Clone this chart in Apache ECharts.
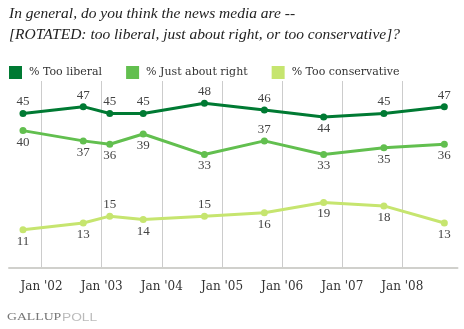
<!DOCTYPE html>
<html>
<head>
<meta charset="utf-8">
<script src="https://cdn.jsdelivr.net/npm/echarts@6/dist/echarts.min.js"></script>
<style>
  html, body { margin: 0; padding: 0; background: #fff; }
  #chart { width: 464px; height: 329px; }
</style>
</head>
<body>
<div id="chart"></div>
<script>
// Survey dates and results (%)
const surveyDates = ['2001-09-10', '2002-09-11', '2003-02-19', '2003-09-10', '2004-09-16',
                     '2005-09-15', '2006-09-10', '2007-09-11', '2008-09-12'];
const tooLiberal = [45, 47, 45, 45, 48, 46, 44, 45, 47];
const justRight = [40, 37, 36, 39, 33, 37, 33, 35, 36];
const tooConservative = [11, 13, 15, 14, 15, 16, 19, 18, 13];

// Year ticks along the date axis
const tickDates = ['2002-01-01', '2003-01-01', '2004-01-01', '2005-01-01',
                   '2006-01-01', '2007-01-01', '2008-01-01'];
const tickLabels = ["Jan '02", "Jan '03", "Jan '04", "Jan '05", "Jan '06", "Jan '07", "Jan '08"];

const seriesNames = ['% Too liberal', '% Just about right', '% Too conservative'];

// Where each value label sits relative to its point
const liberalLabelPos = ['top', 'top', 'top', 'top', 'top', 'top', 'bottom', 'top', 'top'];
const rightLabelPos = ['bottom', 'bottom', 'bottom', 'bottom', 'bottom', 'top', 'bottom', 'bottom', 'bottom'];
const conservLabelPos = ['bottom', 'bottom', 'top', 'bottom', 'top', 'bottom', 'bottom', 'bottom', 'bottom'];

const colors = ['#007a33', '#62bf4f', '#c6e56f'];
const serif = '"Liberation Serif", "DejaVu Serif", serif';
const wideSerif = '"DejaVu Serif", "Liberation Serif", serif';

// Dates are placed on a numeric axis as UTC milliseconds
const ts = s => Date.parse(s + 'T00:00:00Z');
const tickTimes = tickDates.map(ts);

function buildSeries(name, values, positions, color) {
  return {
    name: name,
    type: 'line',
    data: values.map((v, i) => ({
      value: [ts(surveyDates[i]), v],
      label: { position: positions[i] }
    })),
    color: color,
    symbol: 'circle',
    symbolSize: 7,
    lineStyle: { width: 3, color: color },
    itemStyle: { color: color },
    label: {
      show: true,
      distance: 1.5,
      fontFamily: serif,
      fontSize: 13,
      color: '#444',
      formatter: p => p.value[1]
    },
    emphasis: { disabled: true },
    animation: false
  };
}

const chart = echarts.init(document.getElementById('chart'), null, { renderer: 'canvas' });
chart.setOption({
  backgroundColor: '#ffffff',
  animation: false,
  title: {
    text: 'In general, do you think the news media are --\n[ROTATED: too liberal, just about right, or too conservative]?',
    left: 9,
    top: 3,
    padding: 0,
    textStyle: {
      fontFamily: serif,
      fontStyle: 'italic',
      fontWeight: 'normal',
      fontSize: 15.5,
      lineHeight: 21.5,
      color: '#222'
    }
  },
  legend: {
    left: 9,
    top: 66,
    padding: 0,
    itemWidth: 13,
    itemHeight: 13,
    itemGap: 24,
    icon: 'rect',
    data: seriesNames,
    selectedMode: false,
    textStyle: { fontFamily: wideSerif, fontSize: 11, color: '#333', padding: [0, 0, 0, 2] }
  },
  grid: { left: 9, right: 6.5, top: 81, bottom: 61.5, containLabel: false },
  xAxis: {
    type: 'value',
    min: ts('2001-06-17'),
    max: ts('2008-12-01'),
    axisLine: { show: true, lineStyle: { color: '#d0d0cc', width: 2 } },
    axisTick: { show: false, customValues: tickTimes },
    splitLine: { show: true, lineStyle: { color: '#cccccc', width: 1 } },
    axisLabel: {
      customValues: tickTimes,
      margin: 13,
      fontFamily: wideSerif,
      fontSize: 12,
      color: '#333',
      formatter: v => {
        const i = tickTimes.indexOf(v);
        return i >= 0 ? tickLabels[i] : '';
      }
    }
  },
  yAxis: {
    type: 'value',
    min: 0,
    max: 54.5,
    show: false,
    splitLine: { show: false }
  },
  graphic: [
    {
      type: 'text',
      x: 7,
      y: 312,
      scaleX: 1.25,
      style: { text: 'GALLUP', font: '11px "Liberation Serif", serif', fill: '#777' }
    },
    {
      type: 'text',
      x: 62,
      y: 312,
      scaleX: 1.25,
      style: { text: 'POLL', font: '11px "Liberation Sans", sans-serif', fill: '#bbb' }
    }
  ],
  series: [
    buildSeries(seriesNames[0], tooLiberal, liberalLabelPos, colors[0]),
    buildSeries(seriesNames[1], justRight, rightLabelPos, colors[1]),
    buildSeries(seriesNames[2], tooConservative, conservLabelPos, colors[2])
  ]
});
</script>
</body>
</html>
